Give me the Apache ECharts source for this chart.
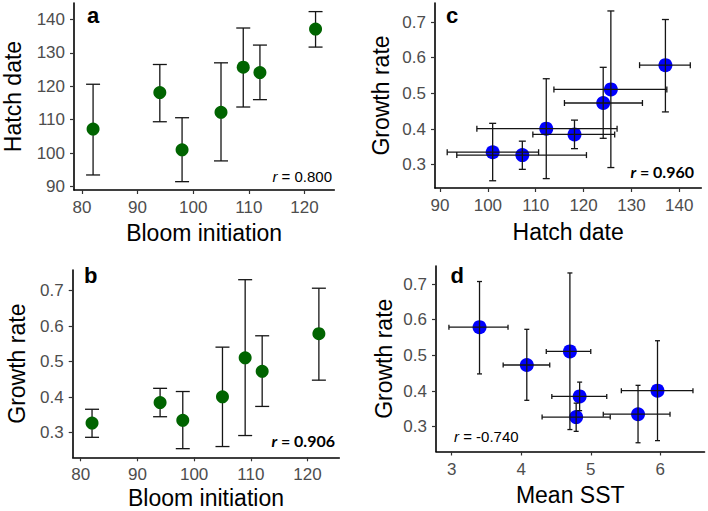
<!DOCTYPE html>
<html>
<head>
<meta charset="utf-8">
<script src="https://cdn.jsdelivr.net/npm/echarts@6/dist/echarts.min.js"></script>
<style>
html,body{margin:0;padding:0;background:#fff;}
#chart{width:708px;height:511px;}
</style>
</head>
<body>
<div id="chart"></div>
<script>
// ---- data (7 sites) ----
const bloom    = [82, 94, 98, 105, 109, 112, 122];
const hatch    = [107.2, 118.1, 101.0, 112.2, 125.7, 124.1, 137.1];
const hatchLo  = [93.5, 109.4, 91.5, 97.7, 113.8, 116.0, 131.7];
const hatchHi  = [120.6, 126.5, 110.6, 127.0, 137.4, 132.3, 142.3];
const growth   = [0.327, 0.385, 0.335, 0.401, 0.511, 0.473, 0.579];
const growthLo = [0.287, 0.345, 0.255, 0.261, 0.292, 0.374, 0.448];
const growthHi = [0.366, 0.425, 0.416, 0.541, 0.731, 0.573, 0.707];
const sst      = [4.79, 4.84, 5.68, 5.96, 4.70, 4.08, 3.40];
const sstLo    = [4.30, 4.44, 5.18, 5.44, 4.36, 3.74, 2.96];
const sstHi    = [5.28, 5.23, 6.14, 6.47, 5.00, 4.41, 3.81];

// ---- tick labels ----
const bloomTicks  = [80, 90, 100, 110, 120];
const hatchTicks  = [90, 100, 110, 120, 130, 140];
const growthTicks = [0.3, 0.4, 0.5, 0.6, 0.7];
const sstTicks    = [3, 4, 5, 6];

// ---- texts ----
const panelLabels = ['a', 'b', 'c', 'd'];
const corrValues  = ['0.800', '0.906', '0.960', '-0.740'];

const FONT = "'Liberation Sans', Arial, sans-serif";
const chart = echarts.init(document.getElementById('chart'), null, {renderer: 'svg'});

function axis(gridIndex, min, max, ticks, name, nameGap, fmt) {
  return {
    type: 'value', gridIndex, min, max,
    name, nameLocation: 'middle', nameGap,
    nameTextStyle: {fontSize: 23, color: '#000', fontFamily: FONT},
    axisLine: {show: true, lineStyle: {color: '#000', width: 1.6}},
    axisTick: {show: true, length: 4, lineStyle: {color: '#333', width: 1.2}, customValues: ticks},
    axisLabel: {show: true, customValues: ticks, fontSize: 17, color: '#4d4d4d', fontFamily: FONT,
                margin: 9, formatter: fmt || (v => String(v)),
                showMinLabel: true, showMaxLabel: true},
    splitLine: {show: false}
  };
}
const f1 = v => Number(v).toFixed(1);

function errRender(vert, horiz, capV, capH) {
  return function (params, api) {
    const x = api.value(0), y = api.value(1);
    const st = {stroke: '#151515', lineWidth: 1.3, fill: null};
    const kids = [];
    if (vert) {
      const a = api.coord([x, api.value(4)]), b = api.coord([x, api.value(5)]);
      kids.push({type: 'line', shape: {x1: a[0], y1: a[1], x2: b[0], y2: b[1]}, style: st});
      kids.push({type: 'line', shape: {x1: a[0] - capV, y1: a[1], x2: a[0] + capV, y2: a[1]}, style: st});
      kids.push({type: 'line', shape: {x1: b[0] - capV, y1: b[1], x2: b[0] + capV, y2: b[1]}, style: st});
    }
    if (horiz) {
      const a = api.coord([api.value(2), y]), b = api.coord([api.value(3), y]);
      kids.push({type: 'line', shape: {x1: a[0], y1: a[1], x2: b[0], y2: b[1]}, style: st});
      kids.push({type: 'line', shape: {x1: a[0], y1: a[1] - capH, x2: a[0], y2: a[1] + capH}, style: st});
      kids.push({type: 'line', shape: {x1: b[0], y1: b[1] - capH, x2: b[0], y2: b[1] + capH}, style: st});
    }
    return {type: 'group', children: kids};
  };
}

const idx = bloom.map((_, i) => i);
const dataA = idx.map(i => [bloom[i], hatch[i], bloom[i], bloom[i], hatchLo[i], hatchHi[i]]);
const dataB = idx.map(i => [bloom[i], growth[i], bloom[i], bloom[i], growthLo[i], growthHi[i]]);
const dataC = idx.map(i => [hatch[i], growth[i], hatchLo[i], hatchHi[i], growthLo[i], growthHi[i]]);
const dataD = idx.map(i => [sst[i], growth[i], sstLo[i], sstHi[i], growthLo[i], growthHi[i]]);

function errSeries(k, data, vert, horiz, capV, capH, z) {
  return {type: 'custom', xAxisIndex: k, yAxisIndex: k, data, z,
          encode: {x: [0, 2, 3], y: [1, 4, 5]},
          renderItem: errRender(vert, horiz, capV, capH), silent: true};
}
function ptSeries(k, data, color, size, z) {
  return {type: 'scatter', xAxisIndex: k, yAxisIndex: k, z,
          data: data.map(d => [d[0], d[1]]), symbolSize: size,
          itemStyle: {color: color, opacity: 1}, silent: true};
}

function txt(x, y, text, opts) {
  return Object.assign({type: 'text', x, y, silent: true,
    style: Object.assign({text, fill: '#000', textVerticalAlign: 'middle'}, opts)});
}

const option = {
  backgroundColor: '#fff',
  animation: false,
  grid: [
    {left: 73,  top: 3,   width: 261.3, height: 187},   // a
    {left: 72.7, top: 270, width: 266.6, height: 187.3}, // b
    {left: 435, top: 3,   width: 266.3, height: 185},   // c
    {left: 436, top: 266, width: 268.5, height: 185.5}  // d
  ],
  xAxis: [
    axis(0, 78.57, 125.37, bloomTicks, 'Bloom initiation', 31),
    axis(1, 78.59, 125.6, bloomTicks, 'Bloom initiation', 29.5),
    axis(2, 88.95, 144.6, hatchTicks, 'Hatch date', 32),
    axis(3, 2.774, 6.636, sstTicks, 'Mean SST', 32)
  ],
  yAxis: [
    axis(0, 89.01, 144.87, hatchTicks, 'Hatch date', 50),
    axis(1, 0.2307, 0.7583, growthTicks, 'Growth rate', 44, f1),
    axis(2, 0.2347, 0.7533, growthTicks, 'Growth rate', 43, f1),
    axis(3, 0.2305, 0.7505, growthTicks, 'Growth rate', 41, f1)
  ],
  series: [
    errSeries(0, dataA, true, false, 7, 0, 2),
    ptSeries(0, dataA, '#006400', 13, 3),
    errSeries(1, dataB, true, false, 7, 0, 2),
    ptSeries(1, dataB, '#006400', 13, 3),
    ptSeries(2, dataC, '#0000ff', 14, 2),
    errSeries(2, dataC, true, true, 3.5, 3, 3),
    ptSeries(3, dataD, '#0000ff', 14, 2),
    errSeries(3, dataD, true, true, 2.5, 2.5, 3)
  ],
  graphic: [
    txt(87, 15, panelLabels[0], {font: "bold 22px " + FONT}),
    txt(84, 275.5, panelLabels[1], {font: "bold 22px " + FONT}),
    txt(446, 15.5, panelLabels[2], {font: "bold 22px " + FONT}),
    txt(450.5, 275, panelLabels[3], {font: "bold 22px " + FONT}),
    txt(332, 176.8, '{i|r} = ' + corrValues[0], {font: "15px " + FONT, textAlign: 'right',
        rich: {i: {fontStyle: 'italic', fontSize: 15, fontFamily: FONT}}}),
    txt(335, 440, '{i|r} = ' + corrValues[1], {font: "bold 16px Lato, 'Open Sans', sans-serif", textAlign: 'right',
        rich: {i: {fontStyle: 'italic', fontWeight: 'bold', fontSize: 16, fontFamily: "Lato, 'Open Sans', sans-serif"}}}),
    txt(694, 171.5, '{i|r} = ' + corrValues[2], {font: "bold 16px Lato, 'Open Sans', sans-serif", textAlign: 'right',
        rich: {i: {fontStyle: 'italic', fontWeight: 'bold', fontSize: 16, fontFamily: "Lato, 'Open Sans', sans-serif"}}}),
    txt(454, 436, '{i|r} = ' + corrValues[3], {font: "15px " + FONT, textAlign: 'left',
        rich: {i: {fontStyle: 'italic', fontSize: 15, fontFamily: FONT}}})
  ]
};
chart.setOption(option);
</script>
</body>
</html>
